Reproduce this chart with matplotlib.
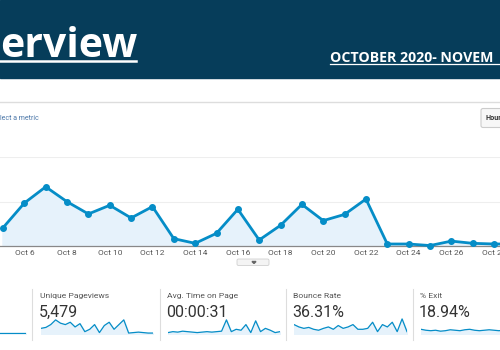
import matplotlib
matplotlib.use("Agg")
import matplotlib.pyplot as plt
from matplotlib.patches import Rectangle, FancyBboxPatch, Polygon

# main chart: daily pageviews, Oct 5 .. Oct 29
days = list(range(5, 30))
pageviews = [82, 193, 266, 199, 144, 183, 126, 177, 33, 12, 57, 165, 27,
             93, 187, 114, 142, 211, 9, 9, 2, 22, 12, 9, 9]
tick_days = [6, 8, 10, 12, 14, 16, 18, 20, 22, 24, 26, 28]
tick_labels = ["Oct %d" % d for d in tick_days]

# metric tiles
tile_names = ["Unique Pageviews", "Avg. Time on Page", "Bounce Rate", "% Exit"]
tile_values = ["5,479", "00:00:31", "36.31%", "18.94%"]
spark_first = [2, 2, 2, 2, 2, 2, 2, 2, 2, 2, 2, 2]
spark_unique = [12, 14, 20, 30, 23, 20, 25, 15, 22, 5, 10, 20, 3, 18, 25,
                10, 20, 30, 2, 3, 4, 3, 2, 2]
spark_time = [3, 5, 4, 6, 5, 4, 3, 4, 5, 4, 5, 6, 30, 5, 10, 8, 20, 3,
              28, 5, 12, 8, 3, 5]
spark_bounce = [20, 15, 12, 14, 10, 8, 12, 15, 10, 18, 12, 15, 20, 10, 10,
                12, 25, 5, 20, 15, 25, 5, 32, 5]
spark_exit = [10, 8, 7, 8, 6, 7, 9, 8, 7, 9, 10, 8, 7, 8, 9, 8, 7, 8, 9,
              8, 7, 8, 9, 8]

BLUE = "#058dc7"
FILL = "#e6f2fb"
NAVY = "#063d5a"

W, H = 500, 350
fig = plt.figure(figsize=(5, 3.5), dpi=100)
fig.patch.set_facecolor("white")


def px_axes(x0, y0, x1, y1):
    return fig.add_axes([x0 / W, 1 - y1 / H, (x1 - x0) / W, (y1 - y0) / H])


# decorations in pixel coordinates
bg = fig.add_axes([0, 0, 1, 1])
bg.set_xlim(0, W)
bg.set_ylim(H, 0)
bg.axis("off")

# header band (the screenshot crops the titles)
bg.add_patch(Rectangle((0, 0), W, 78, color=NAVY))
bg.text(0.5, 57, "erview", color="white", fontsize=29.5, fontweight="bold",
        family="Open Sans", ha="left", va="baseline")
bg.plot([0, 136], [60.5, 60.5], color="white", lw=1.8)
bg.text(330, 62, "OCTOBER 2020- NOVEM", color="white", fontsize=10.2,
        fontweight="bold", family="Open Sans", ha="left", va="baseline")
bg.plot([330, 500], [64, 64], color="white", lw=0.9)

bg.plot([0, W], [102, 102], color="#dddddd", lw=1)
bg.text(0, 119, "lect a metric", color="#4a76a8", fontsize=5,
        family="Roboto", ha="left", va="center")
bg.add_patch(FancyBboxPatch((481, 108.5), 40, 19,
                            boxstyle="round,pad=0,rounding_size=2",
                            fc="#f7f7f7", ec="#cccccc", lw=0.8))
bg.text(485, 118, "Hour", color="#333333", fontsize=5.2, fontweight="bold",
        family="Roboto", ha="left", va="center")

# expand tab under the chart
bg.add_patch(FancyBboxPatch((237, 259), 32, 6.5,
                            boxstyle="round,pad=0,rounding_size=1.5",
                            fc="#f4f4f4", ec="#d0d0d0", lw=0.6))
bg.add_patch(Polygon([[252, 261.5], [256, 261.5], [254, 263.5]],
                     closed=True, color="#666666"))

# tile dividers
for x in [32, 160, 286, 413]:
    bg.plot([x, x], [289, 340], color="#dddddd", lw=0.8)

tile_x = [40, 167, 293, 420]
for x, name, val in zip(tile_x, tile_names, tile_values):
    bg.text(x, 296, name, color="#555555", fontsize=6.1, family="Roboto",
            ha="left", va="center")
    bg.text(x - 1, 312.5, val, color="#333333", fontsize=11.5,
            family="Roboto", ha="left", va="center")

# main chart
ax = px_axes(0, 157, W, 246)
ax.set_facecolor("none")
ax.fill_between(days, pageviews, 0, color=FILL, zorder=1)
ax.plot(days, pageviews, color=BLUE, lw=2, marker="o", markersize=4,
        zorder=3, clip_on=False)
ax.set_xlim(5 - 3 / 21.35, 5 + 497 / 21.35)
ax.set_ylim(0, 400)
ax.set_yticks([200, 400])
ax.yaxis.grid(True, color="#eeeeee", lw=0.8)
ax.set_axisbelow(True)
ax.tick_params(axis="y", left=False, labelleft=False)
ax.set_xticks(tick_days)
ax.set_xticklabels(tick_labels, fontsize=6, color="#555555",
                   family="Roboto")
ax.tick_params(axis="x", length=0, pad=3)
for side in ["top", "left", "right"]:
    ax.spines[side].set_visible(False)
ax.spines["bottom"].set_color("#888888")
ax.spines["bottom"].set_linewidth(0.9)


def sparkline(vals, x0, x1, y0=318, y1=334):
    s = px_axes(x0, y0, x1, y1)
    s.set_facecolor("none")
    xs = list(range(len(vals)))
    s.fill_between(xs, vals, 0, color=FILL)
    s.plot(xs, vals, color=BLUE, lw=0.9)
    s.set_xlim(0, len(vals) - 1)
    s.set_ylim(0, 34)
    s.axis("off")


sparkline(spark_first, 0, 26)
sparkline(spark_unique, 41, 153)
sparkline(spark_time, 168, 280)
sparkline(spark_bounce, 294, 407)
sparkline(spark_exit, 421, 533)

fig.savefig("out.png", dpi=100)
